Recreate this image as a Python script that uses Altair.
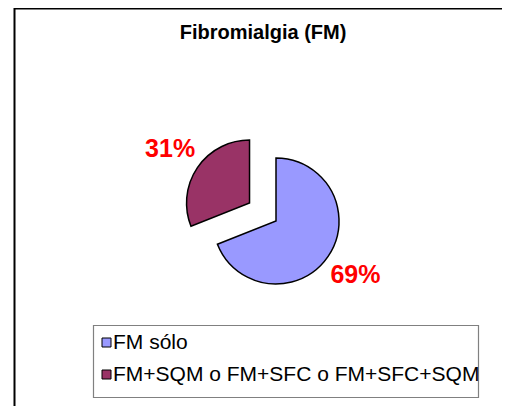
import math
import altair as alt
import pandas as pd

# ---- data ----
categories = ["FM sólo", "FM+SQM o FM+SFC o FM+SFC+SQM"]
values = [69, 31]
explode = [0, 32]
colors = ["#9999FF", "#993366"]
title_text = "Fibromialgia (FM)"

df = pd.DataFrame({"cat": categories, "value": values, "explode": explode,
                   "order": list(range(len(categories)))})
legend_df = pd.DataFrame({"cat": categories})

FONT = "Liberation Sans"
CX, CY, R, LR = 268, 213, 63, 96
TWO_PI = 2 * math.pi
W, H = 494, 398

color_scale = alt.Scale(domain=categories, range=colors)

base = alt.Chart(df).transform_window(
    cum="sum(value)", sort=[alt.SortField("order")]
).transform_calculate(
    start="datum.cum - datum.value",
    end="datum.cum",
    mid="(datum.cum - datum.value/2) / 100 * 2 * PI",
).transform_calculate(
    px=f"{CX} + datum.explode * sin(datum.mid)",
    py=f"{CY} - datum.explode * cos(datum.mid)",
    label="format(datum.value, 'd') + '%'",
).transform_calculate(
    lx=f"datum.px + {LR} * sin(datum.mid)",
    ly=f"datum.py - {LR} * cos(datum.mid)",
)

theta_scale = alt.Scale(domain=[0, 100], range=[0, TWO_PI])

arcs = base.mark_arc(outerRadius=R, stroke="black", strokeWidth=1.5).encode(
    x=alt.X("px:Q", scale=None, axis=None),
    y=alt.Y("py:Q", scale=None, axis=None),
    theta=alt.Theta("start:Q", scale=theta_scale),
    theta2="end:Q",
    color=alt.Color("cat:N", scale=color_scale, legend=None),
)

labels = base.mark_text(
    font=FONT, fontSize=25, fontWeight="bold", color="#FF0000",
    align="center", baseline="middle",
).encode(
    x=alt.X("lx:Q", scale=None, axis=None),
    y=alt.Y("ly:Q", scale=None, axis=None),
    text="label:N",
)

one = alt.Data(values=[{}])
title = alt.Chart(one).mark_text(
    font=FONT, fontSize=20, fontWeight="bold", color="black",
    align="center", baseline="alphabetic",
).encode(x=alt.value(255), y=alt.value(31), text=alt.value(title_text))

# outer frame: right and bottom edges fall outside the drawing and are not seen
frame = alt.Chart(one).mark_rect(fill="white", stroke="black", strokeWidth=2).encode(
    x=alt.value(6.5), x2=alt.value(W + 20), y=alt.value(0.5), y2=alt.value(H + 20))

# legend (drawn as marks)
legend_box = alt.Chart(one).mark_rect(fill="white", stroke="#808080", strokeWidth=1.2).encode(
    x=alt.value(85.5), x2=alt.value(470.5), y=alt.value(317.5), y2=alt.value(389.5))
row_scale = alt.Scale(type="point", domain=categories, range=[334.5, 366.5], padding=0)
legend_sym = alt.Chart(legend_df).mark_square(size=81, stroke="black", strokeWidth=1,
                                              opacity=1).encode(
    x=alt.value(98.5),
    y=alt.Y("cat:N", scale=row_scale, axis=None),
    color=alt.Color("cat:N", scale=color_scale, legend=None),
)
legend_txt = alt.Chart(legend_df).mark_text(
    font=FONT, fontSize=21, color="black", align="left", baseline="middle",
).encode(
    x=alt.value(105),
    y=alt.Y("cat:N", scale=row_scale, axis=None),
    text="cat:N",
)

chart = alt.layer(frame, title, arcs, labels, legend_box, legend_sym, legend_txt).properties(
    width=W, height=H, padding=0, autosize=alt.AutoSizeParams(type="none"),
    background="white",
).configure_view(stroke=None)

chart.save("out.html", embed_options={"renderer": "svg", "actions": False})
